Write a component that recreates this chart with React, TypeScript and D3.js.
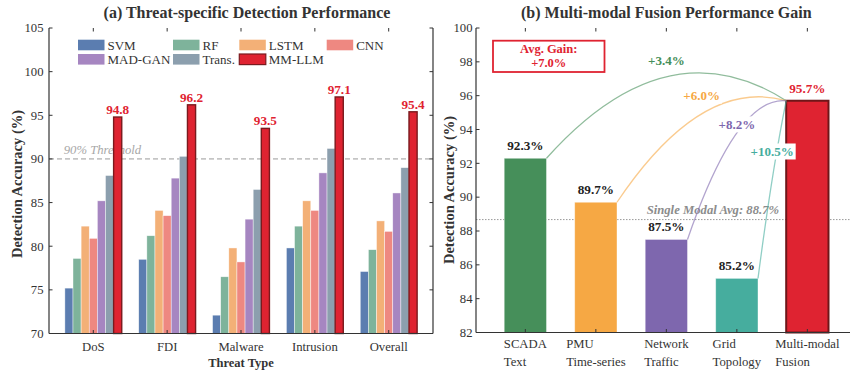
import React from "react";
import * as d3 from "d3";

// ---- Panel (a): detection accuracy per threat type ----
const threats = ["DoS", "FDI", "Malware", "Intrusion", "Overall"];
const methods = ["SVM", "RF", "LSTM", "CNN", "MAD-GAN", "Trans.", "MM-LLM"];
const svmAcc = [75.2, 78.5, 72.1, 79.8, 77.1];
const rfAcc = [78.6, 81.2, 76.5, 82.3, 79.6];
const lstmAcc = [82.3, 84.1, 79.8, 85.2, 82.9];
const cnnAcc = [80.9, 83.5, 78.2, 84.1, 81.7];
const madGanAcc = [85.2, 87.8, 83.1, 88.4, 86.1];
const transAcc = [88.1, 90.3, 86.5, 91.2, 89.0];
const mmLlmAcc = [94.8, 96.2, 93.5, 97.1, 95.4];
const leftTicks = [70, 75, 80, 85, 90, 95, 100, 105];
const thresholdValue = 90;

// ---- Panel (b): single modality vs. fused accuracy ----
const modalities = [
  ["SCADA", "Text"],
  ["PMU", "Time-series"],
  ["Network", "Traffic"],
  ["Grid", "Topology"],
  ["Multi-modal", "Fusion"],
];
const modalAcc = [92.3, 89.7, 87.5, 85.2, 95.7];
const rightTicks = [82, 84, 86, 88, 90, 92, 94, 96, 98, 100];

const FONT = "'Liberation Serif', 'Times New Roman', Times, serif";
const INK = "#333333";
const methodColors = ["#5B7DB0", "#7EB39B", "#F3B077", "#EE8881", "#A686C1", "#8C9FAE", "#DF2331"];
const modalColors = ["#468F5A", "#F6A844", "#7E67AE", "#46AD9E", "#DF2331"];
const RED = "#DF2331";

// bulge of each gain arc (fraction of horizontal span) and label height (data units)
const arcLift = [0.44, 0.445, 0.755, 0.67];
const gainLabelY = [98.1, 96.0, 94.3, 92.7];

let measureCtx: CanvasRenderingContext2D | null = null;
function textWidth(s: string, font: string) {
  if (!measureCtx) measureCtx = document.createElement("canvas").getContext("2d");
  if (!measureCtx) return s.length * 6;
  measureCtx.font = font;
  return measureCtx.measureText(s).width;
}

export default function App() {
  const W = 850;
  const H = 372;
  const tickLen = 3.5;
  const tickFs = 12.7;

  // ---------- left panel ----------
  const L = { x0: 49, x1: 433, top: 28, bottom: 333.5 };
  const xL = d3.scaleLinear().domain([-0.6, 4.6]).range([L.x0, L.x1]);
  const yL = d3.scaleLinear().domain([70, 105]).range([L.bottom, L.top]);
  const series = [svmAcc, rfAcc, lstmAcc, cnnAcc, madGanAcc, transAcc, mmLlmAcc];
  const barW = 0.11;
  const legendCols = [78, 173, 239.3, 326.7];
  const legendRows = [45, 59.3];
  const legendSlots = [
    [0, 0], [1, 0], [2, 0], [3, 0],
    [0, 1], [1, 1], [2, 1],
  ];

  // ---------- right panel ----------
  const R = { x0: 476, x1: 856.7, top: 28, bottom: 332.5 };
  const xR = d3.scaleLinear().domain([-0.7, 4.7]).range([R.x0, R.x1]);
  const yR = d3.scaleLinear().domain([82, 100]).range([R.bottom, R.top]);
  const rBarW = 0.6;
  const fusionIdx = modalAcc.length - 1;
  const fusion = modalAcc[fusionIdx];
  const singles = modalAcc.slice(0, fusionIdx);
  const singleAvg = d3.mean(singles) as number;
  const gains = singles.map((v) => fusion - v);
  const avgGain = d3.mean(gains) as number;

  const arcs = singles.map((v, i) => {
    const x0 = xR(i + rBarW / 2);
    const y0 = yR(v);
    const x2 = xR(fusionIdx - rBarW / 2);
    const y2 = yR(fusion);
    const mx = (x0 + x2) / 2;
    const my = (y0 + y2) / 2;
    const cy = my - arcLift[i] * (x2 - x0);
    const p = d3.path();
    p.moveTo(x0, y0);
    p.quadraticCurveTo(mx, cy, x2, y2);
    return { d: p.toString(), mx };
  });

  const tickFont = `${tickFs}px ${FONT}`;

  return (
    <svg
      width={W}
      height={H}
      viewBox={`0 0 ${W} ${H}`}
      style={{ position: "absolute", left: 0, top: 0, background: "#fff" }}
      fontFamily={FONT}
    >
      <defs>
        <clipPath id="rightClip">
          <rect x={R.x0} y={0} width={W - R.x0} height={H} />
        </clipPath>
      </defs>

      {/* ================= Panel (a) ================= */}
      <text x={247} y={18} textAnchor="middle" fontSize={16} fontWeight="bold" fill={INK}>
        (a) Threat-specific Detection Performance
      </text>

      {/* threshold */}
      <line x1={L.x0} x2={L.x1} y1={yL(thresholdValue)} y2={yL(thresholdValue)} stroke="#9a9a9a" strokeWidth={1} strokeDasharray="5,3" />
      <text x={xL(-0.4)} y={yL(thresholdValue) - 4.5} fontSize={12.7} fontStyle="italic" fill="#a8a8a8">
        90% Threshold
      </text>

      {/* bars */}
      {series.map((vals, j) =>
        vals.map((v, i) => {
          const xc = i + (j - (methods.length - 1) / 2) * barW;
          const isOurs = j === methods.length - 1;
          return (
            <rect
              key={`b${j}-${i}`}
              x={xL(xc - barW / 2)}
              y={yL(v)}
              width={xL(barW) - xL(0)}
              height={yL(70) - yL(v)}
              fill={methodColors[j]}
              stroke={isOurs ? "#7A1A1E" : "#ffffff"}
              strokeOpacity={isOurs ? 1 : 0.7}
              strokeWidth={isOurs ? 1.4 : 0.6}
            />
          );
        })
      )}
      {mmLlmAcc.map((v, i) => (
        <text key={`lv${i}`} x={xL(i + 3 * barW)} y={yL(v) - 3} textAnchor="middle" fontSize={13.2} fontWeight="bold" fill={RED}>
          {v.toFixed(1)}
        </text>
      ))}

      {/* legend */}
      {methods.map((m, j) => {
        const [c, r] = legendSlots[j];
        const x = legendCols[c];
        const yc = legendRows[r];
        const isOurs = j === methods.length - 1;
        return (
          <g key={`lg${j}`}>
            <rect x={x} y={yc - 5.3} width={26.5} height={10.6} fill={methodColors[j]} stroke={isOurs ? "#7A1A1E" : "none"} strokeWidth={isOurs ? 1.2 : 0} />
            <text x={x + 29.5} y={yc + 4.5} fontSize={13} fill={INK}>
              {m}
            </text>
          </g>
        );
      })}

      {/* axes frame */}
      <line x1={L.x0} x2={L.x0} y1={L.top} y2={L.bottom} stroke={INK} strokeWidth={1.2} />
      <line x1={L.x1} x2={L.x1} y1={L.top} y2={L.bottom} stroke={INK} strokeWidth={1.2} />
      <line x1={L.x0} x2={L.x1} y1={L.bottom} y2={L.bottom} stroke={INK} strokeWidth={1.2} />
      {leftTicks.map((t) => (
        <g key={`lyt${t}`}>
          <line x1={L.x0} x2={L.x0 + tickLen} y1={yL(t)} y2={yL(t)} stroke={INK} strokeWidth={1} />
          <line x1={L.x1} x2={L.x1 - tickLen} y1={yL(t)} y2={yL(t)} stroke={INK} strokeWidth={1} />
          <text x={L.x0 - 5.5} y={yL(t) + 4.3} textAnchor="end" fontSize={tickFs} fill={INK}>
            {t}
          </text>
        </g>
      ))}
      {threats.map((t, i) => (
        <g key={`lxt${i}`}>
          <line x1={xL(i)} x2={xL(i)} y1={L.top} y2={L.top + tickLen} stroke={INK} strokeWidth={1} />
          <line x1={xL(i)} x2={xL(i)} y1={L.bottom} y2={L.bottom - tickLen} stroke={INK} strokeWidth={1} />
          <text x={xL(i)} y={L.bottom + 17.5} textAnchor="middle" fontSize={tickFs} fill={INK}>
            {t}
          </text>
        </g>
      ))}
      <text x={(L.x0 + L.x1) / 2} y={367} textAnchor="middle" fontSize={12.5} fontWeight="bold" fill={INK}>
        Threat Type
      </text>
      <text
        transform={`translate(22, 184) rotate(-90)`}
        textAnchor="middle"
        fontSize={14.5}
        fontWeight="bold"
        fill={INK}
      >
        Detection Accuracy (%)
      </text>

      {/* ================= Panel (b) ================= */}
      <text x={(R.x0 + R.x1) / 2} y={18} textAnchor="middle" fontSize={16} fontWeight="bold" fill={INK}>
        (b) Multi-modal Fusion Performance Gain
      </text>

      <g clipPath="url(#rightClip)">
        {/* single-modal average */}
        <line x1={R.x0} x2={W} y1={yR(singleAvg)} y2={yR(singleAvg)} stroke="#9a9a9a" strokeWidth={1} strokeDasharray="1.5,1.5" />

        {modalAcc.map((v, i) => {
          const isFusion = i === fusionIdx;
          return (
            <rect
              key={`rb${i}`}
              x={xR(i - rBarW / 2)}
              y={yR(v)}
              width={xR(rBarW) - xR(0)}
              height={yR(82) - yR(v)}
              fill={modalColors[i]}
              stroke={isFusion ? "#6E1619" : "#ffffff"}
              strokeOpacity={isFusion ? 1 : 0.5}
              strokeWidth={isFusion ? 2 : 0.8}
            />
          );
        })}

        <text x={xR(3.6)} y={yR(singleAvg) - 6} textAnchor="end" fontSize={12.7} fontStyle="italic" fontWeight="bold" fill="#8c8c8c">
          {`Single Modal Avg: ${singleAvg.toFixed(1)}%`}
        </text>

        {/* gain arcs */}
        {arcs.map((a, i) => (
          <path key={`arc${i}`} d={a.d} fill="none" stroke={modalColors[i]} strokeOpacity={0.6} strokeWidth={1.3} />
        ))}
        {arcs.map((a, i) => {
          const label = `+${gains[i].toFixed(1)}%`;
          const w = textWidth(label, `bold 13px ${FONT}`);
          const y = yR(gainLabelY[i]);
          return (
            <g key={`gl${i}`}>
              <rect x={a.mx - w / 2 - 2} y={y - 8} width={w + 4} height={16} fill="#ffffff" />
              <text x={a.mx} y={y + 4.6} textAnchor="middle" fontSize={13} fontWeight="bold" fill={modalColors[i]}>
                {label}
              </text>
            </g>
          );
        })}

        {/* value labels */}
        {modalAcc.map((v, i) => (
          <text
            key={`rv${i}`}
            x={xR(i)}
            y={yR(v) - 8}
            textAnchor="middle"
            fontSize={13.2}
            fontWeight="bold"
            fill={i === fusionIdx ? RED : "#222"}
          >
            {`${v.toFixed(1)}%`}
          </text>
        ))}
      </g>

      {/* average-gain box */}
      <rect x={R.x0 + 17} y={40.7} width={111.5} height={31.3} fill="#fff" stroke={RED} strokeWidth={1.8} />
      <text x={R.x0 + 17 + 111.5 / 2} y={53.3} textAnchor="middle" fontSize={12.5} fontWeight="bold" fill={RED}>
        Avg. Gain:
      </text>
      <text x={R.x0 + 17 + 111.5 / 2} y={67.3} textAnchor="middle" fontSize={12.5} fontWeight="bold" fill={RED}>
        {`+${avgGain.toFixed(1)}%`}
      </text>

      {/* right axes */}
      <line x1={R.x0} x2={R.x0} y1={R.top} y2={R.bottom} stroke={INK} strokeWidth={1.2} />
      <line x1={R.x0} x2={W} y1={R.bottom} y2={R.bottom} stroke={INK} strokeWidth={1.2} />
      {rightTicks.map((t) => (
        <g key={`ryt${t}`}>
          <line x1={R.x0} x2={R.x0 + tickLen} y1={yR(t)} y2={yR(t)} stroke={INK} strokeWidth={1} />
          <text x={R.x0 - 3.5} y={yR(t) + 4.3} textAnchor="end" fontSize={tickFs} fill={INK}>
            {t}
          </text>
        </g>
      ))}
      {modalities.map((lines, i) => {
        const cx = xR(i);
        const wMax = Math.max(...lines.map((s) => textWidth(s, tickFont)));
        return (
          <g key={`rxt${i}`}>
            <line x1={cx} x2={cx} y1={R.top} y2={R.top + tickLen} stroke={INK} strokeWidth={1} />
            <line x1={cx} x2={cx} y1={R.bottom} y2={R.bottom - tickLen} stroke={INK} strokeWidth={1} />
            {lines.map((s, k) => (
              <text key={k} x={cx - wMax / 2} y={R.bottom + 15 + k * 18} fontSize={tickFs} fill={INK}>
                {s}
              </text>
            ))}
          </g>
        );
      })}
      <text
        transform={`translate(454, 190) rotate(-90)`}
        textAnchor="middle"
        fontSize={14.5}
        fontWeight="bold"
        fill={INK}
      >
        Detection Accuracy (%)
      </text>
    </svg>
  );
}
